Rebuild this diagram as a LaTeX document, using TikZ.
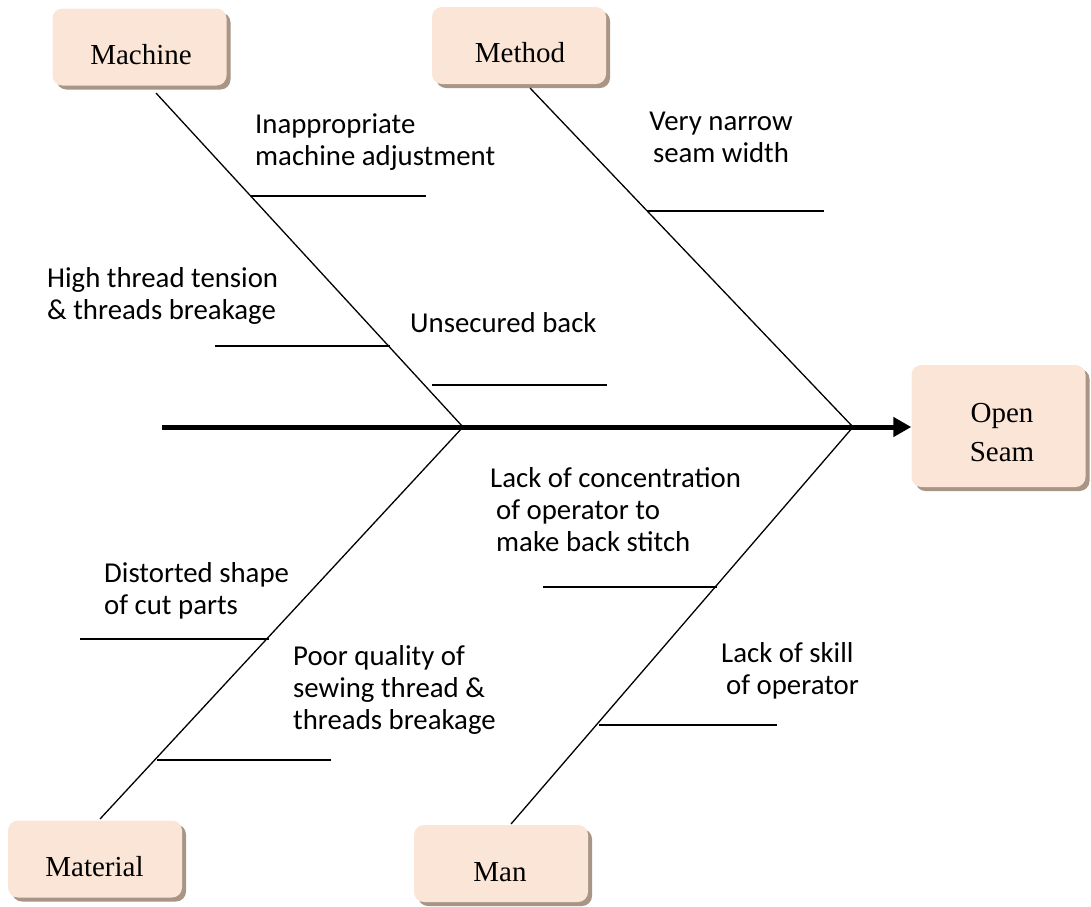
\documentclass[tikz,border=0pt]{standalone}
\usepackage{fontspec}
\usetikzlibrary{arrows.meta,shadows}
\newfontfamily\causefont{Carlito}
\newfontfamily\boxfont{Liberation Serif}
\definecolor{boxfill}{HTML}{FBE5D6}
\definecolor{boxshade}{HTML}{A89585}
\begin{document}
\begin{tikzpicture}[x=1pt,y=-1pt,
  catbox/.style={draw=none, fill=boxfill, rounded corners=10pt,
    minimum width=174pt, minimum height=77pt, inner sep=0pt,
    general shadow={fill=boxshade, shadow xshift=4pt, shadow yshift=-4pt}},
  cattext/.style={font=\boxfont\fontsize{29}{39}\selectfont, inner sep=0pt, align=center},
  cause/.style={font=\causefont\fontsize{28.8}{32}\selectfont, inner sep=0pt, align=left, anchor=west},
  bone/.style={line width=1.3pt},
  rib/.style={line width=1.3pt},
  spine/.style={line width=5pt, -{Triangle[length=18pt,width=19pt]}}]
\useasboundingbox (0,0) rectangle (1091,906);

% category boxes
\node[catbox] (machine) at (139.5,47) {};
\node[cattext] (machine-t) at (141,55) {Machine};
\node[catbox] (method) at (519,45.5) {};
\node[cattext] (method-t) at (520,53) {Method};
\node[catbox] (material) at (95,859) {};
\node[cattext] (material-t) at (94.5,867) {Material};
\node[catbox] (man) at (501,863.5) {};
\node[cattext] (man-t) at (500,872) {Man};
\node[catbox, minimum height=122pt] (seam) at (998.5,426) {};
\node[cattext] (seam-t) at (1002,432.5) {Open\\Seam};

% spine
\coordinate (tail) at (162,427);
\coordinate (j1) at (463,427);
\coordinate (j2) at (853,427);
\draw[spine] (tail) -- (seam.west |- tail);

% main bones
\coordinate (machine-b) at (156,93);
\coordinate (method-b) at (530,88);
\coordinate (material-b) at (100,819);
\coordinate (man-b) at (511,824);
\draw[bone] (machine-b) -- (j1);
\draw[bone] (method-b) -- (j2);
\draw[bone] (j1) -- (material-b);
\draw[bone] (j2) -- (man-b);

% ribs
\coordinate (r1a) at (251,196); \coordinate (r1b) at (426,196);
\coordinate (r2a) at (215,346); \coordinate (r2b) at (390,346);
\coordinate (r3a) at (432,385); \coordinate (r3b) at (607,385);
\coordinate (r4a) at (647,211); \coordinate (r4b) at (824,211);
\coordinate (r5a) at (543,587); \coordinate (r5b) at (717,587);
\coordinate (r6a) at (599,725); \coordinate (r6b) at (777,725);
\coordinate (r7a) at (80,639);  \coordinate (r7b) at (269,639);
\coordinate (r8a) at (157,760); \coordinate (r8b) at (331,760);
\foreach \n in {1,...,8} \draw[rib] (r\n a) -- (r\n b);

% cause labels
\node[cause] (c1) at (255,142.5) {Inappropriate\\machine adjustment};
\node[cause, align=center, anchor=center] (c2) at (721,137.5) {Very narrow\\seam width};
\node[cause] (c3) at (47,296) {High thread tension\\\& threads breakage};
\node[cause] (c4) at (410,323) {Unsecured back};
\node[cause] (c5) at (490,509.5) {Lack of concentration\\\hspace{6pt}of operator to\\\hspace{6pt}make back stitch};
\node[cause] (c6) at (721,671) {Lack of skill\\\hspace{5pt}of operator};
\node[cause] (c7) at (104,591) {Distorted shape\\of cut parts};
\node[cause] (c8) at (293,690) {Poor quality of\\sewing thread \&\\threads breakage};
\end{tikzpicture}
\end{document}
